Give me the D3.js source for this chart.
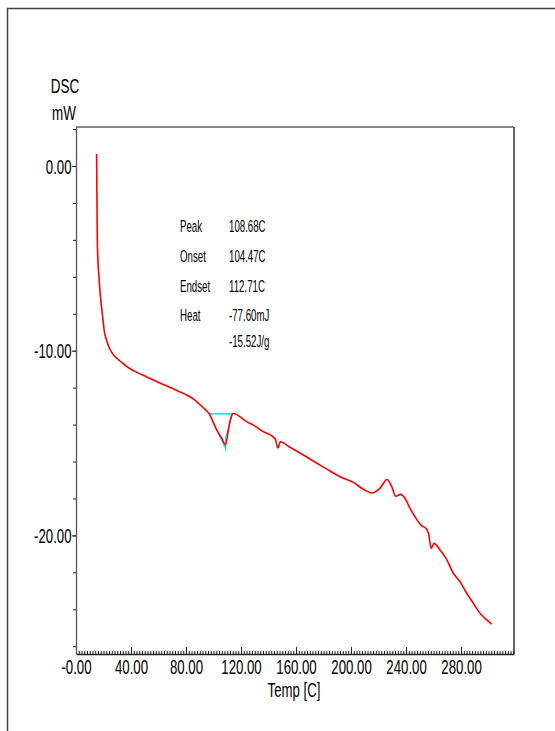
<!DOCTYPE html>
<html>
<head>
<meta charset="utf-8">
<script src="https://cdn.jsdelivr.net/npm/d3@7"></script>
<style>
  html, body { margin: 0; padding: 0; background: #fff; }
  svg { display: block; }
  text { font-family: "Liberation Sans", Arial, sans-serif; fill: #000; }
</style>
</head>
<body>
<svg id="chart" width="555" height="731"></svg>
<script>
// ---- data ----
const temps = [15.0,15.2,15.5,16.0,16.7,17.8,19.1,20.6,22.5,24.7,27.5,30.3,34.4,38.8,48.5,60.6,72.7,84.8,92.0,96.9,102.3,106.0,108.7,110.8,112.5,114.4,124.1,129.0,136.2,144.7,146.9,148.6,155.0,162.9,175.0,184.7,192.0,201.7,209.0,215.0,221.0,226.2,229.6,232.5,236.1,239.3,242.9,246.5,251.4,254.5,256.4,258.2,260.4,264.7,269.1,274.4,279.3,284.1,289.0,293.8,297.5,302.3];
const dsc = [0.65,-1.5,-4.0,-5.2,-6.0,-7.1,-7.98,-8.95,-9.5,-9.92,-10.25,-10.45,-10.7,-10.95,-11.32,-11.73,-12.13,-12.58,-13.05,-13.42,-14.29,-14.74,-15.1,-14.29,-13.66,-13.40,-13.84,-14.03,-14.38,-14.75,-15.27,-14.93,-15.2,-15.54,-16.08,-16.51,-16.82,-17.13,-17.5,-17.7,-17.45,-16.97,-17.36,-17.88,-17.78,-18.0,-18.54,-18.99,-19.48,-19.62,-19.9,-20.70,-20.43,-20.79,-21.24,-22.05,-22.51,-23.13,-23.68,-24.22,-24.49,-24.80];

const xMajorTicks = [0,40,80,120,160,200,240,280];
const xTickLabels = ["-0.00","40.00","80.00","120.00","160.00","200.00","240.00","280.00"];
const yMajorTicks = [0,-10,-20];
const yTickLabels = ["0.00","-10.00","-20.00"];

// peak integration baseline (cyan)
const baseT = [96.9, 114.0];
const baseV = [-13.42, -13.42];
const tanT = [96.9, 108.7, 108.7, 108.7, 114.0];
const tanV = [-13.42, -15.3, -15.4, -14.7, -13.42];

const annLabels = ["Peak","Onset","Endset","Heat",""];
const annValues = ["108.68C","104.47C","112.71C","-77.60mJ","-15.52J/g"];

// ---- layout ----
const svg = d3.select("#chart");
const L = 76, R = 514, T = 127, B = 654;
const x = d3.scaleLinear().domain([0, 318.5]).range([L, R]);
const y = d3.scaleLinear().domain([2.11, -26.42]).range([T, B]);

// outer frame
svg.append("rect").attr("x", 7.5).attr("y", 8.5).attr("width", 700).attr("height", 900)
  .attr("fill", "none").attr("stroke", "#444").attr("stroke-width", 1.5);

// plot frame top / right
svg.append("line").attr("x1", L).attr("x2", R).attr("y1", T).attr("y2", T)
  .attr("stroke", "#111").attr("stroke-width", 1.2);
svg.append("line").attr("x1", R).attr("x2", R).attr("y1", T).attr("y2", B)
  .attr("stroke", "#333").attr("stroke-width", 1.5);

const SX = 0.66;

// x axis minor
const xMinor = svg.append("g").attr("transform", `translate(0,${B})`)
  .call(d3.axisBottom(x).tickValues(d3.range(0, 319, 2)).tickSize(-3).tickSizeOuter(0).tickFormat(""));
xMinor.select(".domain").remove();
// x axis major
const xAxis = svg.append("g").attr("transform", `translate(0,${B})`)
  .call(d3.axisBottom(x).tickValues(xMajorTicks).tickSize(-7).tickSizeOuter(0)
    .tickFormat((d, i) => xTickLabels[i]));
xAxis.select(".domain").attr("stroke", "#222").attr("stroke-width", 1.3);
xAxis.selectAll("text").attr("y", 20).attr("dy", 0)
  .style("font-size", "20px").attr("transform", `scale(${SX},1)`);
svg.selectAll(".tick line").attr("stroke", "#222");

// y axis minor
const yMinor = svg.append("g").attr("transform", `translate(${L},0)`)
  .call(d3.axisLeft(y).tickValues(d3.range(-26, 3, 2)).tickSize(3).tickSizeOuter(0).tickFormat(""));
yMinor.select(".domain").remove();
const yAxis = svg.append("g").attr("transform", `translate(${L},0)`)
  .call(d3.axisLeft(y).tickValues(yMajorTicks).tickSize(4).tickSizeOuter(0)
    .tickFormat((d, i) => yTickLabels[i]));
yAxis.select(".domain").attr("stroke", "#555").attr("stroke-width", 1.3);
yAxis.selectAll("text").attr("x", -4.5 / SX).attr("dy", "0.36em")
  .style("font-size", "20px").attr("transform", `scale(${SX},1)`);
svg.selectAll(".tick line").attr("stroke", "#222");

// axis titles
function condText(tx, ty, str, size, sx, anchor) {
  svg.append("g").attr("transform", `translate(${tx},${ty}) scale(${sx},1)`)
    .append("text").attr("text-anchor", anchor || "middle")
    .style("font-size", size + "px").text(str);
}
condText(65, 93, "DSC", 21, 0.64);
condText(64, 120, "mW", 21, 0.64);
condText(294, 697, "Temp [C]", 20, 0.66);

// annotation
const annY = [232, 262, 292, 321, 347];
annLabels.forEach((s, i) => { if (s) condText(180, annY[i], s, 17, 0.57, "start"); });
annValues.forEach((s, i) => condText(229, annY[i], s, 17, 0.57, "start"));

// cyan integration lines
const lineGen = d3.line().x(d => x(d[0])).y(d => y(d[1]));
svg.append("path").datum(baseT.map((t, i) => [t, baseV[i]]))
  .attr("d", lineGen).attr("fill", "none").attr("stroke", "#00e5ee").attr("stroke-width", 1.5);
svg.append("path").datum(tanT.map((t, i) => [t, tanV[i]]))
  .attr("d", lineGen).attr("fill", "none").attr("stroke", "#00e5ee").attr("stroke-width", 1.2);

// DSC curve
const curve = d3.line().x(d => x(d[0])).y(d => y(d[1])).curve(d3.curveMonotoneX);
svg.append("path").datum(temps.map((t, i) => [t, dsc[i]]))
  .attr("d", curve).attr("fill", "none").attr("stroke", "#ff0000").attr("stroke-width", 1.6);
</script>
</body>
</html>
